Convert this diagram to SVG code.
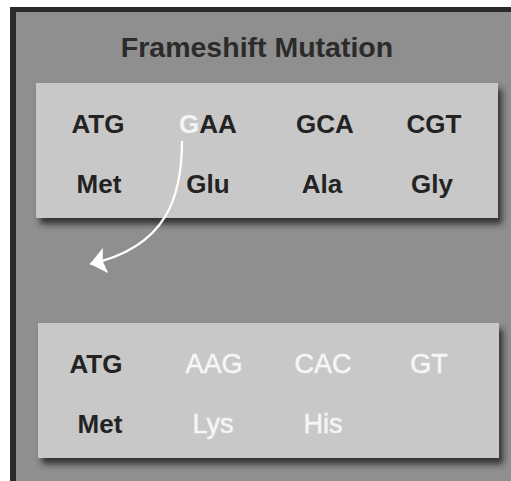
<svg xmlns="http://www.w3.org/2000/svg" width="511" height="481" viewBox="0 0 511 481">
<defs>
<style>
text{font-family:"Liberation Sans",Arial,sans-serif;text-anchor:middle}
.t{font-size:28.5px;font-weight:bold;fill:#2b2b2b}
.d{font-size:26px;font-weight:bold;fill:#232323}
.w{font-size:27px;font-weight:normal;fill:#f6f6f6;stroke:#f6f6f6;stroke-width:0.5}
.box{fill:#c8c8c8}
.arrow{fill:none;stroke:#ffffff;stroke-width:2.2}
</style>
<filter id="sh" x="-10%" y="-10%" width="125%" height="135%">
<feDropShadow dx="4" dy="6" stdDeviation="3" flood-color="#1e1e1e" flood-opacity="0.85"/>
</filter>
<marker id="ah" markerWidth="18" markerHeight="26" refX="16" refY="13" orient="auto" markerUnits="userSpaceOnUse">
<polygon points="16,13 0,0 3,13 0,26" fill="#ffffff"/>
</marker>
</defs>
<rect x="0" y="0" width="511" height="481" fill="#ffffff"/>
<rect x="10" y="7" width="501" height="474" fill="#2a2a2a"/>
<rect x="16" y="12" width="495" height="469" fill="#8f8f8f"/>
<text class="t" x="257" y="57">Frameshift Mutation</text>
<g id="original">
<rect class="box" x="36" y="83" width="462" height="135" filter="url(#sh)"/>
<text class="d" x="98" y="133">ATG</text>
<text class="d" x="208" y="133"><tspan fill="#f4f4f4">G</tspan>AA</text>
<text class="d" x="325" y="133">GCA</text>
<text class="d" x="434" y="133">CGT</text>
<text class="d" x="99" y="193">Met</text>
<text class="d" x="208" y="193">Glu</text>
<text class="d" x="322" y="193">Ala</text>
<text class="d" x="432" y="193">Gly</text>
</g>
<g id="mutated">
<rect class="box" x="38" y="323" width="461" height="135" filter="url(#sh)"/>
<text class="d" x="96" y="373">ATG</text>
<text class="w" x="214" y="373">AAG</text>
<text class="w" x="323" y="373">CAC</text>
<text class="w" x="429" y="373">GT</text>
<text class="d" x="100" y="433">Met</text>
<text class="w" x="213" y="433">Lys</text>
<text class="w" x="323" y="433">His</text>
</g>
<g id="connectors">
<path class="arrow" d="M182,141 C182,195 168,247 90,264" marker-end="url(#ah)"/>
</g>
</svg>
